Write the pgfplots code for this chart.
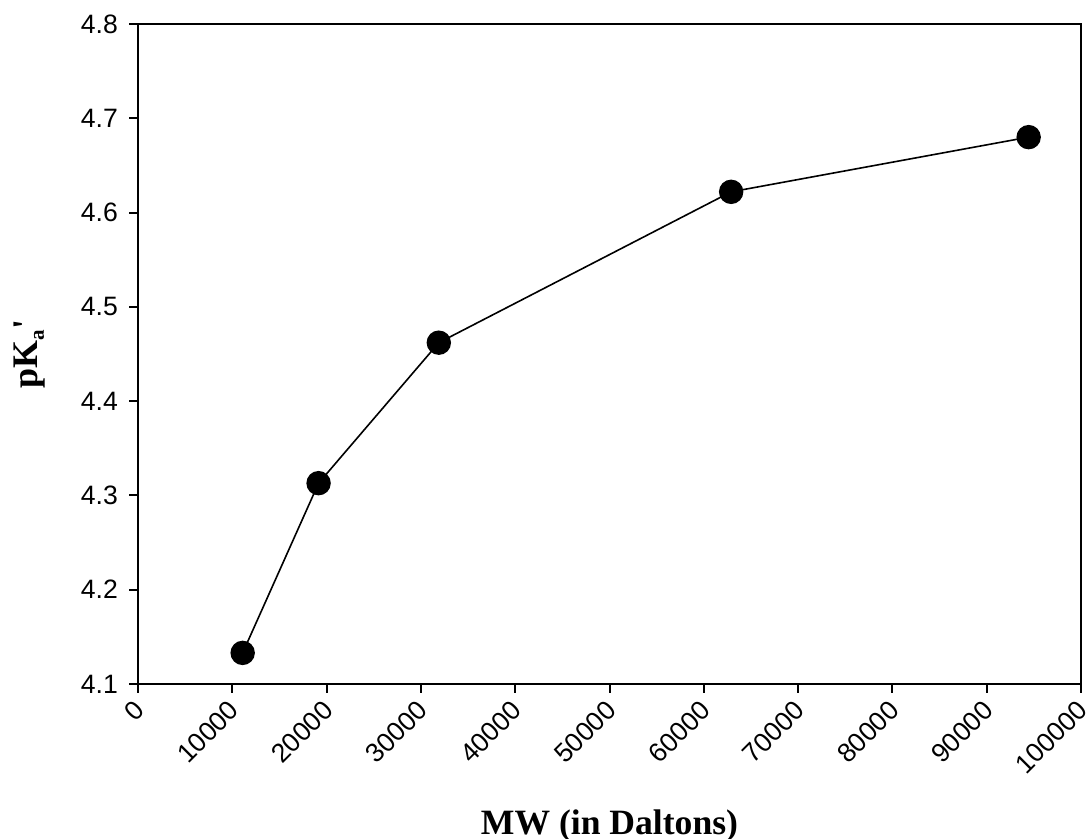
\documentclass[border=0pt]{standalone}
\usepackage{fontspec}
\setmainfont{Liberation Sans}
\newfontfamily\timesfont{Liberation Serif}
\usepackage{pgfplots}
\pgfplotsset{compat=1.18}
\begin{document}
\begin{tikzpicture}
\begin{axis}[
  name=ax,
  scale only axis,
  width=471.5pt, height=330pt,
  xmin=0, xmax=100000, ymin=4.1, ymax=4.8,
  xtick={0,10000,20000,30000,40000,50000,60000,70000,80000,90000,100000},
  xticklabels={0,10000,20000,30000,40000,50000,60000,70000,80000,90000,100000},
  ytick={4.1,4.2,4.3,4.4,4.5,4.6,4.7,4.8},
  yticklabels={4.1,4.2,4.3,4.4,4.5,4.6,4.7,4.8},
  xtick pos=left, ytick pos=left,
  tick align=outside,
  major tick length=4.5pt,
  axis line style={line width=1pt},
  every tick/.style={line width=1pt, black},
  scaled x ticks=false,
  xticklabel style={xshift=-2.5pt, yshift=-1.5pt, rotate=45, anchor=north east, inner sep=1pt, font=\fontsize{13.3}{15}\selectfont},
  yticklabel style={xshift=-2pt, font=\fontsize{13.3}{15}\selectfont},
  xlabel={MW (in Daltons)},
  ylabel={pK\raisebox{-0.35ex}{\fontsize{10.5}{12}\selectfont a}\kern0.5pt'},
  xlabel style={at={(axis description cs:0.5,-0.215)}, anchor=center, font=\timesfont\bfseries\fontsize{17.8}{20}\selectfont},
  ylabel style={at={(axis description cs:-0.1145,0.5)}, anchor=center, font=\timesfont\bfseries\fontsize{18}{20}\selectfont},
]
\addplot[black, line width=0.8pt, mark=*, mark size=5.7pt, mark options={fill=black}] coordinates {
  (11100,4.133) (19150,4.313) (31900,4.462) (62900,4.622) (94450,4.680)
};
\end{axis}
\pgfresetboundingbox
\path[use as bounding box] ([shift={(-69pt,-77.5pt)}]ax.south west) rectangle ([shift={(4pt,12pt)}]ax.north east);
\end{tikzpicture}
\end{document}
